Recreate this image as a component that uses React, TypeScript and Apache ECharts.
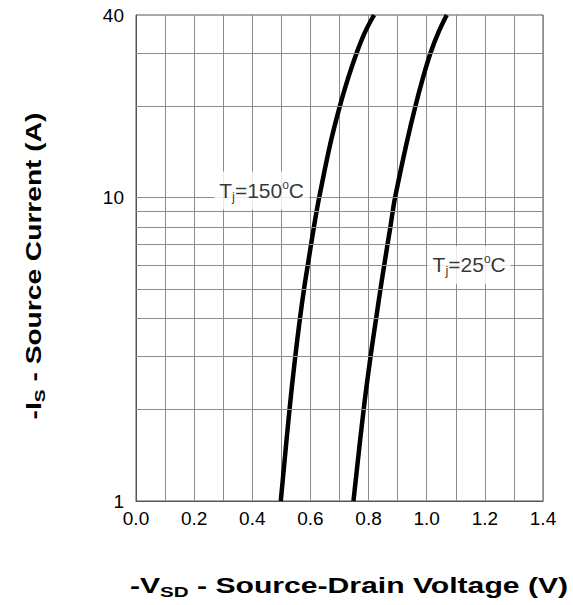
import React, { useEffect, useRef } from "react";
import * as echarts from "echarts";

// Source current (A) sample levels
const currentLevels = [1, 2, 3, 4, 5, 6, 7, 8, 9, 10, 15, 20, 25, 30, 35, 40];
// -VSD (V) at each current level, Tj = 150°C
const vsdTj150 = [0.498, 0.528, 0.548, 0.564, 0.578, 0.591, 0.602, 0.612, 0.621, 0.63, 0.668, 0.701, 0.731, 0.759, 0.787, 0.819];
// -VSD (V) at each current level, Tj = 25°C
const vsdTj25 = [0.748, 0.783, 0.807, 0.826, 0.841, 0.854, 0.865, 0.875, 0.883, 0.891, 0.93, 0.961, 0.988, 1.013, 1.04, 1.069];
// horizontal grid lines of the log axis
const yGridValues = [2, 3, 4, 5, 6, 7, 8, 9, 10, 20, 30];
// annotation anchors [V, A]
const label150Pos = [0.432, 10.55];
const label25Pos = [1.146, 6.0];

const FONT = "'Liberation Sans', Arial, sans-serif";

export default function App() {
  const ref = useRef<HTMLDivElement>(null);
  useEffect(() => {
    document.body.style.margin = "0";
    const chart = echarts.init(ref.current!, null, { renderer: "svg" });
    const tjRich = {
      a: { fontSize: 21, fontFamily: FONT, color: "#000", lineHeight: 24 },
      s: { fontSize: 13, fontFamily: FONT, color: "#000", lineHeight: 13, verticalAlign: "bottom" },
      o: { fontSize: 12, fontFamily: FONT, color: "#000", lineHeight: 12, verticalAlign: "top" },
    };
    const labelSeries = (pos: number[], text: string) => ({
      type: "scatter",
      data: [pos],
      symbolSize: 1,
      itemStyle: { color: "rgba(0,0,0,0)" },
      silent: true,
      z: 5,
      label: {
        show: true,
        position: "inside",
        formatter: text,
        backgroundColor: "#fff",
        padding: [7, 5, 7, 5],
        rich: tjRich,
      },
    });
    chart.setOption({
      animation: false,
      backgroundColor: "#fff",
      grid: { left: 136, right: 30, top: 15, bottom: 104, show: true, borderColor: "#555", borderWidth: 1, backgroundColor: "#fff" },
      xAxis: {
        type: "value",
        min: 0,
        max: 1.4,
        interval: 0.2,
        axisLine: { show: true, lineStyle: { color: "#555", width: 1 } },
        axisTick: { show: false },
        axisLabel: { fontSize: 19, fontFamily: FONT, color: "#000", margin: 8, formatter: (v: number) => v.toFixed(1) },
        splitLine: { show: true, lineStyle: { color: "#8c8c8c", width: 1 } },
        minorTick: { show: false, splitNumber: 2 },
        minorSplitLine: { show: true, lineStyle: { color: "#8c8c8c", width: 1 } },
      },
      yAxis: {
        type: "log",
        logBase: 10,
        min: 1,
        max: 40,
        axisLine: { show: true, lineStyle: { color: "#555", width: 1 } },
        axisTick: { show: false },
        axisLabel: { fontSize: 19, fontFamily: FONT, color: "#000", margin: 12 },
        splitLine: { show: false },
      },
      graphic: [
        {
          type: "text",
          x: 349,
          y: 585,
          scaleX: 1.37,
          style: {
            text: "{a|-V}{b|SD}{a| - Source-Drain Voltage (V)}",
            align: "center",
            verticalAlign: "middle",
            rich: {
              a: { fontSize: 22, fontWeight: "bold", fontFamily: FONT, fill: "#000", lineHeight: 28 },
              b: { fontSize: 15, fontWeight: "bold", fontFamily: FONT, fill: "#000", lineHeight: 15, verticalAlign: "bottom" },
            },
          },
        },
        {
          type: "text",
          x: 33,
          y: 266,
          rotation: Math.PI / 2,
          scaleX: 1.28,
          style: {
            text: "{a|-I}{b|S}{a| - Source Current (A)}",
            align: "center",
            verticalAlign: "middle",
            rich: {
              a: { fontSize: 22, fontWeight: "bold", fontFamily: FONT, fill: "#000", lineHeight: 28 },
              b: { fontSize: 15, fontWeight: "bold", fontFamily: FONT, fill: "#000", lineHeight: 15, verticalAlign: "bottom" },
            },
          },
        },
      ],
      series: [
        {
          type: "line",
          data: [[0, 1]],
          symbol: "none",
          lineStyle: { opacity: 0 },
          silent: true,
          z: 1,
          markLine: {
            silent: true,
            symbol: "none",
            label: { show: false },
            lineStyle: { color: "#8c8c8c", width: 1, type: "solid" },
            data: yGridValues.map((v) => ({ yAxis: v })),
          },
        },
        {
          type: "line",
          data: currentLevels.map((c, i) => [vsdTj150[i], c]),
          symbol: "none",
          smooth: 0.4,
          lineStyle: { color: "#000", width: 4.5 },
          z: 3,
        },
        {
          type: "line",
          data: currentLevels.map((c, i) => [vsdTj25[i], c]),
          symbol: "none",
          smooth: 0.4,
          lineStyle: { color: "#000", width: 4.5 },
          z: 3,
        },
        labelSeries(label150Pos, "{a|T}{s|j}{a|=150}{o|o}{a|C}"),
        labelSeries(label25Pos, "{a|T}{s|j}{a|=25}{o|o}{a|C}"),
      ],
    });
    return () => chart.dispose();
  }, []);
  return <div ref={ref} style={{ position: "fixed", left: 0, top: 0, width: 573, height: 605 }} />;
}
